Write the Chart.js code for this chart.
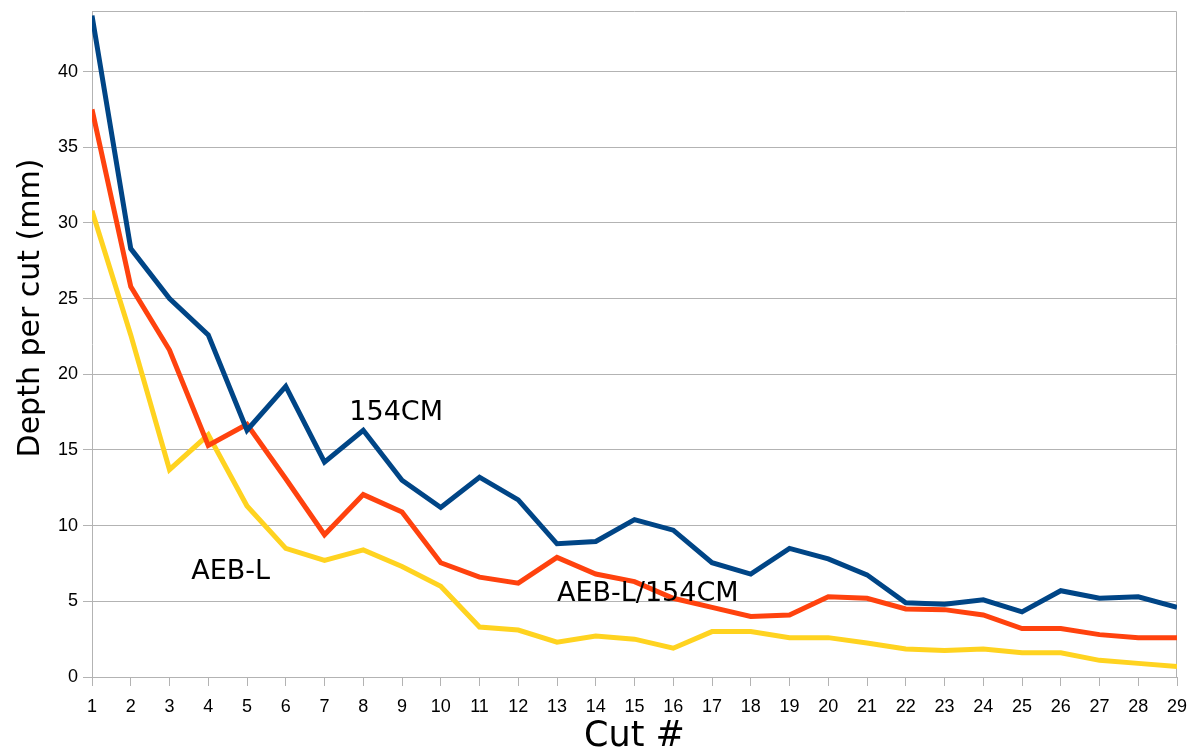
<!DOCTYPE html>
<html lang="en">
<head>
    <meta charset="UTF-8">
    <title>Depth per cut</title>
    <script src="https://cdn.jsdelivr.net/npm/chart.js@4.4.1/dist/chart.umd.min.js"></script>
    <style>
        body { margin: 0; background: #fff; }
        #wrap { width: 1202px; height: 756px; }
    </style>
</head>
<body>
    <div id="wrap"><canvas id="myChart" width="1202" height="756"></canvas></div>

    <script>
        const cuts = []
        for (let i = 1; i <= 29; i++) cuts.push(i)

        const cm154 = [43.7, 28.3, 25.0, 22.6, 16.3, 19.2, 14.2, 16.3, 13.0, 11.2,
            13.2, 11.7, 8.8, 8.95, 10.4, 9.7, 7.55, 6.8, 8.5, 7.8,
            6.75, 4.9, 4.8, 5.1, 4.3, 5.7, 5.2, 5.3, 4.6]

        const aebl154 = [37.5, 25.8, 21.6, 15.3, 16.7, 13.1, 9.4, 12.05, 10.9, 7.55,
            6.6, 6.2, 7.9, 6.8, 6.3, 5.2, 4.6, 4.0, 4.1, 5.3,
            5.2, 4.5, 4.45, 4.1, 3.2, 3.2, 2.8, 2.6, 2.6]

        const aebl = [30.8, 22.6, 13.7, 16.0, 11.3, 8.5, 7.7, 8.4, 7.3, 6.0,
            3.3, 3.1, 2.3, 2.7, 2.5, 1.9, 3.0, 3.0, 2.6, 2.6,
            2.25, 1.85, 1.75, 1.85, 1.6, 1.6, 1.1, 0.9, 0.7]

        const yTicks = [0, 5, 10, 15, 20, 25, 30, 35, 40]

        // text labels beside the lines: [text, cut, depth]
        const seriesNotes = [
            ['154CM', 7.64, 17.0],
            ['AEB-L', 3.56, 6.45],
            ['AEB-L/154CM', 13.0, 5.05]
        ]

        const notesPlugin = {
            id: 'notes',
            beforeDatasetsDraw(chart) {
                const { ctx, chartArea } = chart
                ctx.save()
                ctx.strokeStyle = '#b3b3b3'
                ctx.lineWidth = 1
                ctx.beginPath()
                ctx.moveTo(chartArea.left, chartArea.top + 0.5)
                ctx.lineTo(chartArea.right - 0.5, chartArea.top + 0.5)
                ctx.lineTo(chartArea.right - 0.5, chartArea.bottom)
                ctx.stroke()
                ctx.restore()
            },
            afterDatasetsDraw(chart) {
                const { ctx, scales } = chart
                ctx.save()
                ctx.fillStyle = '#000'
                ctx.font = '27px "DejaVu Sans"'
                ctx.textAlign = 'left'
                ctx.textBaseline = 'alphabetic'
                seriesNotes.forEach(n => {
                    ctx.fillText(n[0], scales.x.getPixelForValue(n[1]), scales.y.getPixelForValue(n[2]))
                })
                // y axis title sits a bit above the middle of the plot
                ctx.translate(31, 308)
                ctx.rotate(-Math.PI / 2)
                ctx.font = '30px "DejaVu Sans"'
                ctx.textAlign = 'center'
                ctx.textBaseline = 'middle'
                ctx.fillText('Depth per cut (mm)', 0, 0)
                ctx.restore()
            }
        }

        const ctx = document.getElementById('myChart').getContext('2d')
        const myChart = new Chart(ctx, {
            type: 'line',
            data: {
                datasets: [
                    { label: '154CM', data: cm154.map((v, i) => ({ x: cuts[i], y: v })), borderColor: '#004586' },
                    { label: 'AEB-L/154CM', data: aebl154.map((v, i) => ({ x: cuts[i], y: v })), borderColor: '#ff420e' },
                    { label: 'AEB-L', data: aebl.map((v, i) => ({ x: cuts[i], y: v })), borderColor: '#ffd320' }
                ]
            },
            options: {
                responsive: false,
                animation: false,
                layout: { padding: { top: 11, right: 25, left: 0, bottom: 0 } },
                elements: {
                    line: { borderWidth: 5, tension: 0, borderJoinStyle: 'miter' },
                    point: { radius: 0 }
                },
                plugins: { legend: { display: false }, tooltip: { enabled: false } },
                scales: {
                    x: {
                        type: 'linear',
                        min: 1,
                        max: 29,
                        afterBuildTicks: s => { s.ticks = cuts.map(v => ({ value: v })) },
                        afterFit: s => { s.height = 79 },
                        ticks: { color: '#000', font: { family: '"Liberation Sans"', size: 18 }, padding: 10, maxRotation: 0, autoSkip: false },
                        grid: { drawOnChartArea: false, tickLength: 9, color: '#b3b3b3' },
                        border: { color: '#b3b3b3' },
                        title: { display: true, text: 'Cut #', color: '#000', font: { family: '"DejaVu Sans"', size: 35 }, padding: { top: -4, bottom: -2 } }
                    },
                    y: {
                        min: 0,
                        max: 44,
                        afterBuildTicks: s => { s.ticks = yTicks.map(v => ({ value: v })) },
                        afterFit: s => { s.width = 92; s.paddingTop = 0; s.paddingBottom = 0 },
                        ticks: { color: '#000', font: { family: '"Liberation Sans"', size: 18 }, padding: 5 },
                        grid: { color: '#b3b3b3', tickLength: 9 },
                        border: { color: '#b3b3b3' }
                    }
                }
            },
            plugins: [notesPlugin]
        })
    </script>
</body>
</html>
